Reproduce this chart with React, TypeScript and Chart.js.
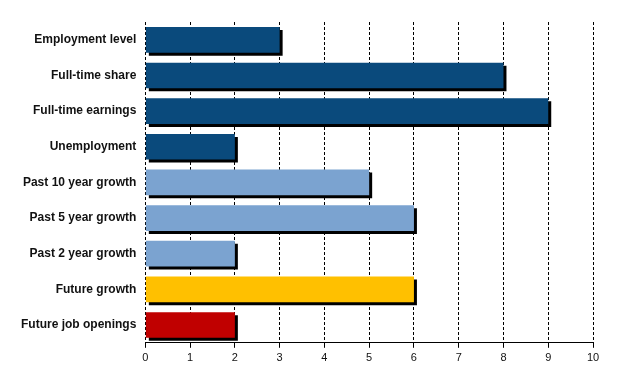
import React, { useEffect, useRef } from "react";
import { Chart, registerables } from "chart.js";

Chart.register(...registerables);

const categories = [
  "Employment level",
  "Full-time share",
  "Full-time earnings",
  "Unemployment",
  "Past 10 year growth",
  "Past 5 year growth",
  "Past 2 year growth",
  "Future growth",
  "Future job openings",
];
const values = [3, 8, 9, 2, 5, 6, 2, 6, 2];
const barColors = [
  "#0a4a7c",
  "#0a4a7c",
  "#0a4a7c",
  "#0a4a7c",
  "#7ba3d0",
  "#7ba3d0",
  "#7ba3d0",
  "#ffc000",
  "#c00000",
];
const xTicks = [0, 1, 2, 3, 4, 5, 6, 7, 8, 9, 10];

const shadowPlugin = {
  id: "barShadow",
  beforeDatasetsDraw(chart: any) {
    const ctx = chart.ctx;
    ctx.save();
    ctx.shadowColor = "#000000";
    ctx.shadowOffsetX = 3;
    ctx.shadowOffsetY = 3;
    ctx.shadowBlur = 0;
  },
  afterDatasetsDraw(chart: any) {
    chart.ctx.restore();
  },
};

export default function App() {
  const ref = useRef<HTMLCanvasElement | null>(null);
  useEffect(() => {
    document.body.style.margin = "0";
    const chart = new Chart(ref.current as HTMLCanvasElement, {
      type: "bar",
      data: {
        labels: categories,
        datasets: [
          {
            data: values,
            backgroundColor: barColors,
            borderWidth: 0,
            barPercentage: 0.72,
            categoryPercentage: 1,
          },
        ],
      },
      plugins: [shadowPlugin],
      options: {
        indexAxis: "y",
        animation: false,
        responsive: false,
        maintainAspectRatio: false,
        layout: { padding: { left: 20, right: 37, top: 22, bottom: 4 } },
        plugins: {
          legend: { display: false },
          tooltip: { enabled: false },
        },
        scales: {
          x: {
            min: 0,
            max: 10,
            afterBuildTicks: (axis: any) => {
              axis.ticks = xTicks.map((v) => ({ value: v }));
            },
            border: { display: true, color: "#000000", width: 1, dash: [3, 2] },
            grid: {
              color: "#000000",
              lineWidth: 1,
              drawTicks: true,
              tickLength: 5,
              tickBorderDash: [],
            } as any,
            ticks: {
              color: "#111111",
              font: { family: "Liberation Sans, Arial, sans-serif", size: 11 },
              padding: 4,
            },
          },
          y: {
            border: { display: false },
            grid: { display: false },
            ticks: {
              color: "#111111",
              font: {
                family: "Liberation Sans, Arial, sans-serif",
                size: 12,
                weight: "bold",
              },
              padding: 1,
            },
          },
        },
      },
    } as any);
    return () => chart.destroy();
  }, []);
  return (
    <div style={{ width: 630, height: 373, background: "#ffffff" }}>
      <canvas ref={ref} width={630} height={373} />
    </div>
  );
}
